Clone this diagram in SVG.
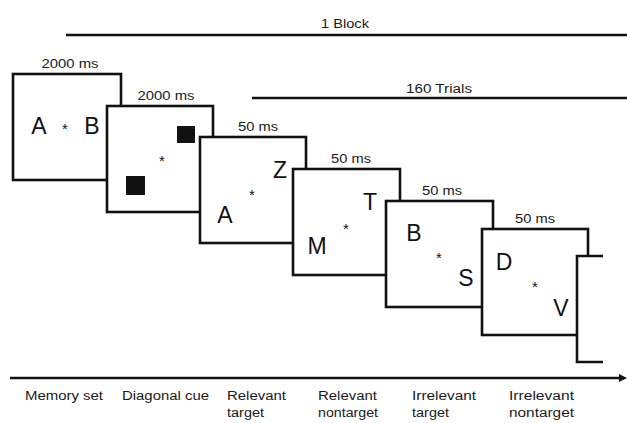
<svg xmlns="http://www.w3.org/2000/svg" width="627" height="423" viewBox="0 0 627 423">
<style>
.box{fill:#fff;stroke:#111;stroke-width:2.6}
.ln{stroke:#111;stroke-width:2.6;fill:none}
.lbl{font-family:"Liberation Sans",Arial,sans-serif;font-size:12px;fill:#1a1a1a;text-anchor:middle}
.cap{font-family:"Liberation Sans",Arial,sans-serif;font-size:12px;fill:#1a1a1a}
.let{font-family:"Liberation Sans",Arial,sans-serif;font-size:23px;fill:#111;text-anchor:middle}
.star{font-family:"Liberation Sans",Arial,sans-serif;font-size:15px;fill:#111;text-anchor:middle}
</style>
<rect width="627" height="423" fill="#fff"/>
<g id="connectors">
<line class="ln" x1="66" y1="35" x2="627" y2="35"/>
<line class="ln" x1="252" y1="98" x2="627" y2="98"/>
<line class="ln" x1="10" y1="378" x2="622" y2="378"/>
<polygon points="619,374 627,378 619,382" fill="#111"/>
</g>
<g id="block-label"><text class="lbl" x="345" y="28" textLength="48" lengthAdjust="spacingAndGlyphs">1 Block</text></g>
<g id="trials-label"><text class="lbl" x="439" y="93" textLength="66" lengthAdjust="spacingAndGlyphs">160 Trials</text></g>
<g id="memory-set">
<rect class="box" x="13" y="74" width="108" height="106"/>
<text class="lbl" x="70" y="68" textLength="57" lengthAdjust="spacingAndGlyphs">2000 ms</text>
<text class="let" x="39" y="134">A</text>
<text class="star" x="65" y="134">*</text>
<text class="let" x="92" y="134">B</text>
</g>
<g id="diagonal-cue">
<rect class="box" x="107" y="106" width="106" height="106"/>
<text class="lbl" x="166" y="100" textLength="57" lengthAdjust="spacingAndGlyphs">2000 ms</text>
<rect x="177" y="126" width="18" height="17" fill="#111"/>
<rect x="126" y="176" width="19" height="19" fill="#111"/>
<text class="star" x="162" y="166">*</text>
</g>
<g id="relevant-target">
<rect class="box" x="200" y="137" width="106" height="106"/>
<text class="lbl" x="258" y="131" textLength="40" lengthAdjust="spacingAndGlyphs">50 ms</text>
<text class="let" x="280" y="178">Z</text>
<text class="star" x="252" y="200">*</text>
<text class="let" x="225" y="223">A</text>
</g>
<g id="relevant-nontarget">
<rect class="box" x="293" y="169" width="107" height="106"/>
<text class="lbl" x="351" y="163" textLength="40" lengthAdjust="spacingAndGlyphs">50 ms</text>
<text class="let" x="370" y="210">T</text>
<text class="star" x="346" y="234">*</text>
<text class="let" x="317" y="254">M</text>
</g>
<g id="irrelevant-target">
<rect class="box" x="386" y="201" width="107" height="106"/>
<text class="lbl" x="442" y="195" textLength="40" lengthAdjust="spacingAndGlyphs">50 ms</text>
<text class="let" x="414" y="241">B</text>
<text class="star" x="439" y="263">*</text>
<text class="let" x="466" y="286">S</text>
</g>
<g id="irrelevant-nontarget">
<rect class="box" x="482" y="229" width="106" height="106"/>
<text class="lbl" x="535" y="223" textLength="40" lengthAdjust="spacingAndGlyphs">50 ms</text>
<text class="let" x="504" y="270">D</text>
<text class="star" x="535" y="292">*</text>
<text class="let" x="561" y="316">V</text>
</g>
<g id="next-trial">
<rect x="577" y="256" width="50" height="106" fill="#fff"/>
<path class="ln" d="M603,256 H577 V362 H603"/>
</g>
<g id="captions">
<text class="cap" x="25" y="400" textLength="78" lengthAdjust="spacingAndGlyphs">Memory set</text>
<text class="cap" x="122" y="400" textLength="87" lengthAdjust="spacingAndGlyphs">Diagonal cue</text>
<text class="cap" x="227" y="400" textLength="59" lengthAdjust="spacingAndGlyphs">Relevant</text>
<text class="cap" x="227" y="417" textLength="37" lengthAdjust="spacingAndGlyphs">target</text>
<text class="cap" x="318" y="400" textLength="59" lengthAdjust="spacingAndGlyphs">Relevant</text>
<text class="cap" x="318" y="417" textLength="60" lengthAdjust="spacingAndGlyphs">nontarget</text>
<text class="cap" x="412" y="400" textLength="64" lengthAdjust="spacingAndGlyphs">Irrelevant</text>
<text class="cap" x="412" y="417" textLength="37" lengthAdjust="spacingAndGlyphs">target</text>
<text class="cap" x="509" y="400" textLength="65" lengthAdjust="spacingAndGlyphs">Irrelevant</text>
<text class="cap" x="509" y="417" textLength="65" lengthAdjust="spacingAndGlyphs">nontarget</text>
</g>
</svg>
